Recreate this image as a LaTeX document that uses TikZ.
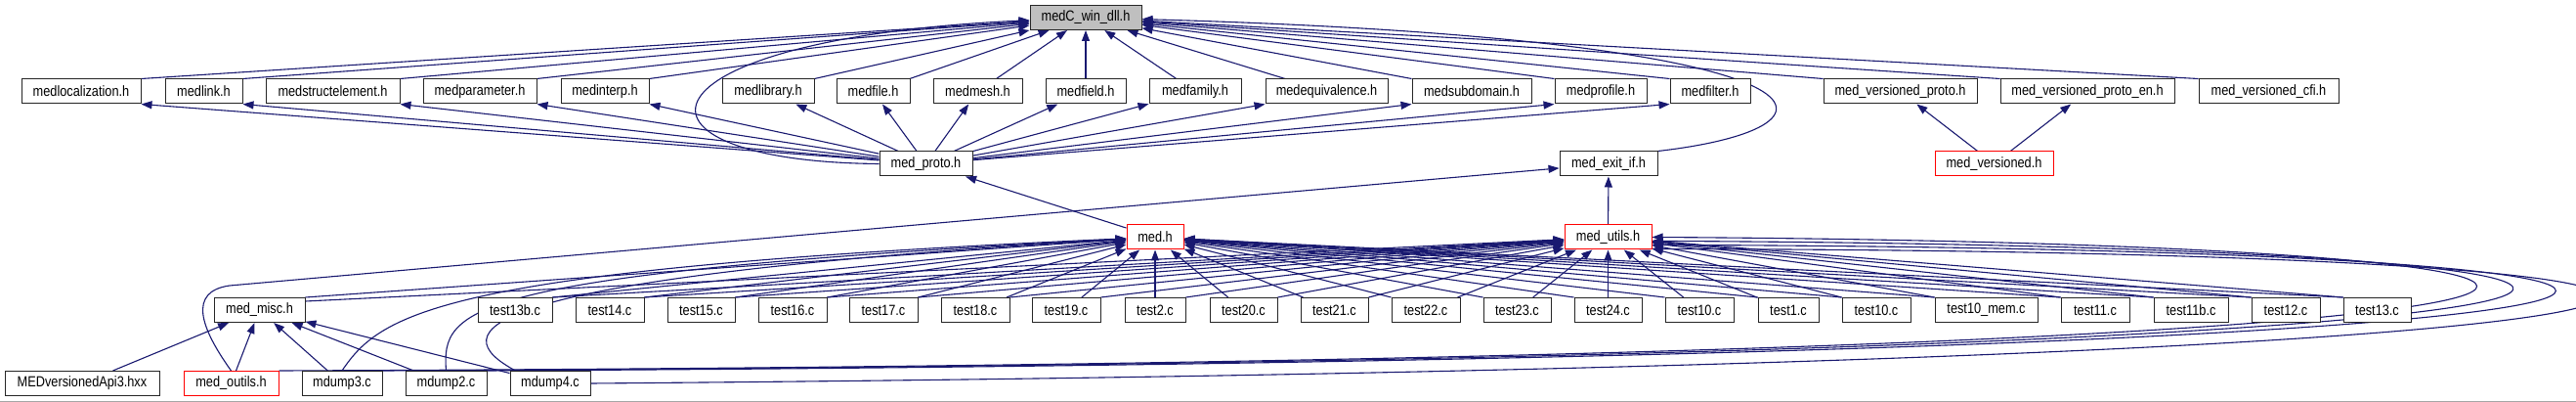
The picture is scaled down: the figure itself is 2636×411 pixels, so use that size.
\documentclass[tikz,border=0pt]{standalone}
\usepackage{fontspec}
\newfontfamily\dxfont[FakeStretch=0.85]{Liberation Sans}
\usetikzlibrary{arrows.meta}
\pgfdeclarelayer{background}
\pgfsetlayers{background,main}
\definecolor{edgec}{RGB}{25,25,112}
\definecolor{topfill}{RGB}{191,191,191}
\definecolor{redc}{RGB}{255,0,0}
\tikzset{
  box/.style={draw=black!85, line width=1pt, fill=white, minimum height=25pt, inner sep=0pt,
    font=\dxfont\fontsize{15}{18}\selectfont},
  redbox/.style={box, draw=redc},
  e/.style={draw=edgec, line width=1.1pt, -{Triangle[length=11pt,width=8pt]}},
}
\begin{document}
\begin{tikzpicture}[x=1pt,y=-1pt]
\useasboundingbox (0,0) rectangle (2636,411);
% row 1
\node[box, fill=topfill, minimum width=114pt] (top) at (1111,18) {medC\_win\_dll.h};
% row 2
\node[box, minimum width=122pt] (mloc) at (83,93.5) {medlocalization.h};
\node[box, minimum width=79pt] (mlink) at (208.5,93.5) {medlink.h};
\node[box, minimum width=137pt] (mstruct) at (340.5,93.5) {medstructelement.h};
\node[box, minimum width=116pt] (mparam) at (491,93.5) {medparameter.h};
\node[box, minimum width=90pt] (minterp) at (619,93.5) {medinterp.h};
\node[box, minimum width=94pt] (mlib) at (786,93.5) {medlibrary.h};
\node[box, minimum width=75pt] (mfile) at (893.5,93.5) {medfile.h};
\node[box, minimum width=91pt] (mmesh) at (1000.5,93.5) {medmesh.h};
\node[box, minimum width=82pt] (mfield) at (1111,93.5) {medfield.h};
\node[box, minimum width=94pt] (mfamily) at (1223,93.5) {medfamily.h};
\node[box, minimum width=125pt] (mequiv) at (1357.5,93.5) {medequivalence.h};
\node[box, minimum width=122pt] (msub) at (1506,93.5) {medsubdomain.h};
\node[box, minimum width=94pt] (mprof) at (1638,93.5) {medprofile.h};
\node[box, minimum width=82pt] (mfilt) at (1750,93.5) {medfilter.h};
\node[box, minimum width=157pt] (vproto) at (1944.5,93.5) {med\_versioned\_proto.h};
\node[box, minimum width=178pt] (vprotoen) at (2136,93.5) {med\_versioned\_proto\_en.h};
\node[box, minimum width=143pt] (vcfi) at (2321.5,93.5) {med\_versioned\_cfi.h};
% row 3
\node[box, minimum width=95pt] (proto) at (947.5,167.5) {med\_proto.h};
\node[box, minimum width=100pt] (exitif) at (1646,167.5) {med\_exit\_if.h};
\node[redbox, minimum width=121pt] (versioned) at (2040.5,167.5) {med\_versioned.h};
% row 4
\node[redbox, minimum width=58pt] (medh) at (1182,242.5) {med.h};
\node[redbox, minimum width=89pt] (utils) at (1645.5,242.5) {med\_utils.h};
% row 5
\node[box, minimum width=93pt] (misc) at (265.5,317) {med\_misc.h};
\node[box, minimum width=76pt] (t13b) at (527,317) {test13b.c};
\node[box, minimum width=70pt] (t14) at (624,317) {test14.c};
\node[box, minimum width=69pt] (t15) at (717.5,317) {test15.c};
\node[box, minimum width=70pt] (t16) at (811,317) {test16.c};
\node[box, minimum width=70pt] (t17) at (904,317) {test17.c};
\node[box, minimum width=70pt] (t18) at (998,317) {test18.c};
\node[box, minimum width=70pt] (t19) at (1091,317) {test19.c};
\node[box, minimum width=62pt] (t2) at (1182,317) {test2.c};
\node[box, minimum width=69pt] (t20) at (1272.5,317) {test20.c};
\node[box, minimum width=69pt] (t21) at (1365.5,317) {test21.c};
\node[box, minimum width=70pt] (t22) at (1459,317) {test22.c};
\node[box, minimum width=69pt] (t23) at (1552.5,317) {test23.c};
\node[box, minimum width=69pt] (t24) at (1645.5,317) {test24.c};
\node[box, minimum width=70pt] (t10a) at (1739,317) {test10.c};
\node[box, minimum width=62pt] (t1) at (1830,317) {test1.c};
\node[box, minimum width=70pt] (t10b) at (1920,317) {test10.c};
\node[box, minimum width=105pt] (t10mem) at (2032.5,317) {test10\_mem.c};
\node[box, minimum width=70pt] (t11) at (2144,317) {test11.c};
\node[box, minimum width=76pt] (t11b) at (2242,317) {test11b.c};
\node[box, minimum width=70pt] (t12) at (2339,317) {test12.c};
\node[box, minimum width=69pt] (t13) at (2432.5,317) {test13.c};
% row 6
\node[box, minimum width=158pt] (api3) at (84,392) {MEDversionedApi3.hxx};
\node[redbox, minimum width=97pt] (outils) at (236.5,392) {med\_outils.h};
\node[box, minimum width=82pt] (d3) at (350,392) {mdump3.c};
\node[box, minimum width=83pt] (d2) at (456.5,392) {mdump2.c};
\node[box, minimum width=82pt] (d4) at (563,392) {mdump4.c};

\begin{pgfonlayer}{background}
\fill[white] (0,0) rectangle (2636,411);
\draw[black!35, line width=1pt] (0,410) -- (2636,410);
% to medC_win_dll.h
\foreach \n in {mloc,mlink,mstruct,mparam,minterp,mlib}
  \draw[e] (\n.north east) -- (top);
\foreach \n in {mfile,mmesh,mfield,mfamily,mequiv}
  \draw[e] (\n) -- (top);
\foreach \n in {msub,mprof,mfilt,vproto,vprotoen,vcfi}
  \draw[e] (\n.north west) -- (top);
\draw[e] (proto.west) .. controls (620,165) and (640,40) .. (top);
\draw[e] (exitif.north east) .. controls (1910,130) and (1900,40) .. (top);
% med_proto.h
\foreach \n in {mloc,mlink,mstruct,mparam,minterp}
  \draw[e] (proto) -- (\n.south east);
\foreach \n in {mlib,mfile,mmesh,mfield,mfamily}
  \draw[e] (proto) -- (\n);
\foreach \n in {mequiv,msub,mprof,mfilt}
  \draw[e] (proto) -- (\n.south west);
% row 3/4
\draw[e] (medh) -- (proto);
\draw[e] (utils) -- (exitif);
\draw[e] (versioned) -- (vproto);
\draw[e] (versioned) -- (vprotoen);
\draw[e] (outils.north) .. controls (205,335) and (192,298) .. (235,292) -- (exitif);
% tests to med.h
\foreach \n in {t13b,t14,t15,t16,t17}
  \draw[e] (\n.north east) -- (medh);
\foreach \n in {t18,t19,t2,t20,t21}
  \draw[e] (\n) -- (medh);
\foreach \n in {t22,t23,t24,t10a,t1,t10b,t10mem,t11,t11b,t12,t13}
  \draw[e] (\n.north west) -- (medh);
% tests to med_utils.h
\foreach \n in {t13b,t14,t15,t16,t17,t18,t19,t2,t20,t21}
  \draw[e] (\n.north east) -- (utils);
\foreach \n in {t22,t23,t24,t10a,t1}
  \draw[e] (\n) -- (utils);
\foreach \n in {t10b,t10mem,t11,t11b,t12,t13}
  \draw[e] (\n.north west) -- (utils);
% med_misc.h
\draw[e] (misc.north east) -- (medh);
\draw[e] ([yshift=-4pt]misc.north east) -- (utils);
\foreach \n in {api3,outils,d3,d2,d4}
  \draw[e] (\n) -- (misc);
% mdump curves to med.h
\draw[e] (d3.north) .. controls (390,320) and (450,275) .. (medh);
\draw[e] (d2.north) .. controls (452,315) and (470,280) .. (medh);
\draw[e] ([xshift=6pt]d4.north west) .. controls (455,340) and (465,285) .. (medh);
% loops to med_utils.h
\draw[e] (outils.north east) .. controls (2984,370) and (2984,250) .. (utils.0);
\draw[e] (d3.north east) .. controls (3025,368) and (3025,252) .. (utils.-5);
\draw[e] (d2.north east) .. controls (3074,366) and (3074,254) .. (utils.-10);
\draw[e] (d4.east) .. controls (3124,372) and (3124,256) .. (utils.-15);
\end{pgfonlayer}
\end{tikzpicture}
\end{document}
